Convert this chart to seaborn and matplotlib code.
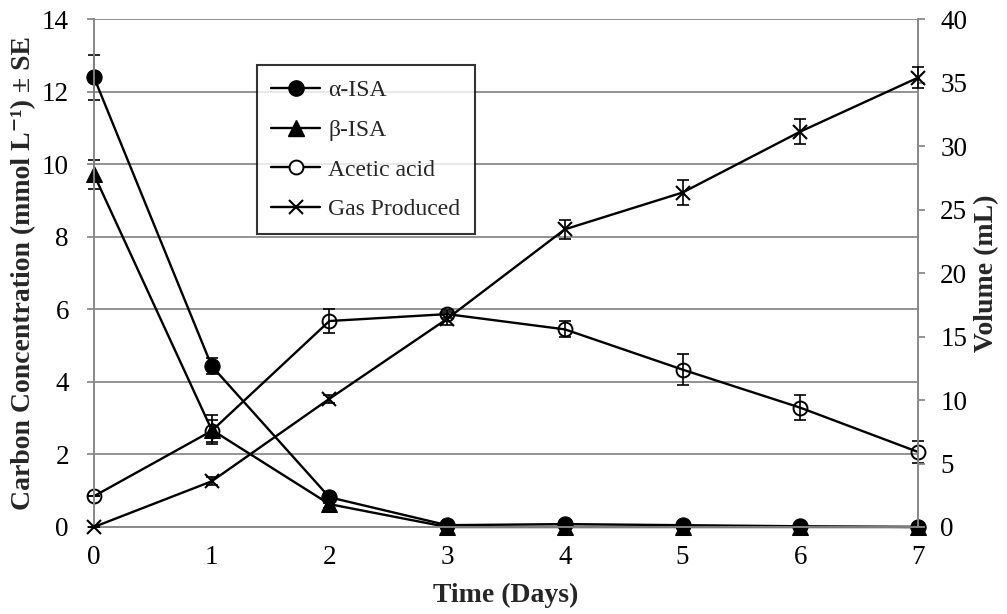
import numpy as np
import pandas as pd
import matplotlib
matplotlib.use("Agg")
import matplotlib.pyplot as plt
import seaborn as sns
from matplotlib.lines import Line2D

days = [0, 1, 2, 3, 4, 5, 6, 7]
alpha_isa = [12.4, 4.44, 0.82, 0.05, 0.08, 0.05, 0.02, 0.0]
alpha_se = [0.62, 0.23, 0.15, 0.0, 0.0, 0.0, 0.0, 0.0]
beta_isa = [9.72, 2.68, 0.63, 0.0, 0.0, 0.0, 0.0, 0.0]
beta_se = [0.40, 0.40, 0.10, 0.0, 0.0, 0.0, 0.0, 0.0]
acetic = [0.85, 2.65, 5.68, 5.87, 5.45, 4.34, 3.29, 2.07]
acetic_se = [0.0, 0.3, 0.33, 0.1, 0.22, 0.43, 0.34, 0.31]
gas = [0.0, 3.6, 10.1, 16.4, 23.45, 26.35, 31.15, 35.4]
gas_se = [0.0, 0.3, 0.3, 0.5, 0.76, 1.0, 1.0, 0.85]

labels = ["α-ISA", "β-ISA", "Acetic acid", "Gas Produced"]

sns.set_style("white")
plt.rcParams['font.family'] = ['Liberation Serif', 'DejaVu Serif']

fig = plt.figure(figsize=(10.07, 6.14), dpi=100)
ax = fig.add_axes([0.0933, 0.1417, 0.8183, 0.8269])
ax2 = ax.twinx()

grid_c = "#8a8a8a"
df = pd.DataFrame({"day": days, "alpha": alpha_isa, "beta": beta_isa,
                   "acetic": acetic, "gas": gas})

lw = 1.7
cap = 4.6
eb = dict(fmt='none', ecolor='black', elinewidth=1.2, capsize=cap, capthick=1.2, zorder=3, clip_on=False)
for a, y, e in [(ax, alpha_isa, alpha_se), (ax, beta_isa, beta_se), (ax, acetic, acetic_se), (ax2, gas, gas_se)]:
    c = a.errorbar(days, y, yerr=e, **eb)
    for art in list(c.lines[1]) + list(c.lines[2]):
        art.set_clip_on(False)

sns.lineplot(data=df, x="day", y="beta", ax=ax, color='black', lw=lw, marker='^',
             markersize=11, markerfacecolor='black', markeredgecolor='black', zorder=4, clip_on=False)
sns.lineplot(data=df, x="day", y="alpha", ax=ax, color='black', lw=lw, marker='o',
             markersize=11, markerfacecolor='black', markeredgecolor='black', zorder=5, clip_on=False)
sns.lineplot(data=df, x="day", y="acetic", ax=ax, color='black', lw=lw, marker='o',
             markersize=10, markerfacecolor='none', markeredgecolor='black', markeredgewidth=1.4, zorder=4, clip_on=False)
sns.lineplot(data=df, x="day", y="gas", ax=ax2, color='black', lw=lw, marker='x',
             markersize=10, markeredgecolor='black', markeredgewidth=1.5, zorder=4, clip_on=False)

ax.set_xlim(0, 7)
ax.set_ylim(0, 14)
ax2.set_ylim(0, 40)
ax.set_xticks(days)
ax.set_yticks(np.arange(0, 15, 2))
ax2.set_yticks(np.arange(0, 41, 5))

ax.yaxis.grid(True, color=grid_c, lw=1.3)
ax.set_axisbelow(True)
for a in (ax, ax2):
    a.spines['top'].set_visible(False)
    for s in ['left', 'right', 'bottom']:
        a.spines[s].set_color(grid_c)
        a.spines[s].set_linewidth(1.3)
    a.tick_params(axis='both', which='major', direction='out', length=5, width=1.3,
                  color=grid_c, labelsize=19.5, labelcolor='black')
ax.tick_params(axis='x', pad=8)
ax.tick_params(axis='y', pad=13)
ax2.tick_params(axis='y', pad=11)

ax.set_xlabel("Time (Days)", fontsize=20, fontweight='bold', labelpad=9)
ax.set_ylabel("Carbon Concentration (mmol L⁻¹) ± SE", fontsize=20, fontweight='bold', labelpad=4)
ax2.set_ylabel("Volume (mL)", fontsize=20, fontweight='bold', labelpad=5)

handles = [
    Line2D([], [], color='black', lw=lw, marker='o', markersize=11, markerfacecolor='black'),
    Line2D([], [], color='black', lw=lw, marker='^', markersize=11, markerfacecolor='black'),
    Line2D([], [], color='black', lw=lw, marker='o', markersize=10, markerfacecolor='white', markeredgewidth=1.4),
    Line2D([], [], color='black', lw=lw, marker='x', markersize=10, markeredgewidth=1.5),
]
leg = ax2.legend(handles, labels, loc='upper left', bbox_to_anchor=(0.198, 0.909),
                 borderaxespad=0, fontsize=17, frameon=True, fancybox=False, edgecolor='black',
                 handlelength=2.08, handletextpad=0.34, labelspacing=0.77, borderpad=0.6)
leg.get_frame().set_linewidth(1.5)
leg.set_zorder(10)

fig.savefig("out.png", dpi=100, facecolor='white')
